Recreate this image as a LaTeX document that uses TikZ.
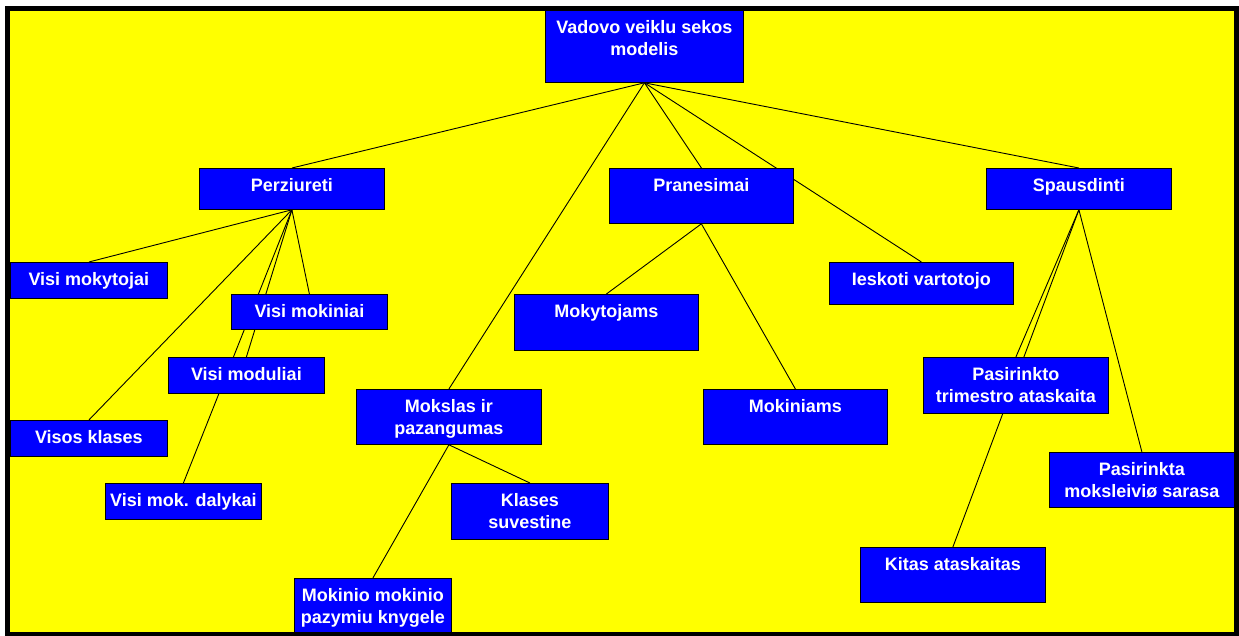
\documentclass[tikz,border=0pt]{standalone}
\usepackage{fontspec}
\setmainfont{Liberation Sans}
\pgfdeclarelayer{bg}
\pgfsetlayers{bg,main}
\definecolor{pageyellow}{RGB}{255,255,0}
\definecolor{boxblue}{RGB}{0,0,255}
% fixed first-line height so every label sits at the same depth below its box top
\newcommand\lnstrut{\rule{0pt}{15pt}}
\tikzset{
  menubox/.style={draw=black, line width=0.8pt, fill=boxblue, rectangle,
                  inner sep=0pt, anchor=north west},
  menutext/.style={anchor=north, inner sep=0pt, text=white, align=center,
                   font=\bfseries\fontsize{18}{21.5}\selectfont},
  conn/.style={draw=black, line width=0.9pt},
  outerframe/.style={draw=black, line width=5pt},
}
% #1 name, #2 #3 top-left corner, #4 #5 bottom-right corner, #6 label
\newcommand\menuitem[6]{%
  \node[menubox, minimum width=#4-#2, minimum height=#5-#3] (#1) at (#2,#3) {};
  \node[menutext] (#1-t) at ([yshift=-8.4pt]#1.north) {\lnstrut #6};
}
\begin{document}
\begin{tikzpicture}[x=1pt, y=-1pt]
  \useasboundingbox (0,0) rectangle (1239,635);

  % menu tree
  \menuitem{root}{545}{10}{743}{82}{Vadovo veiklu sekos\\modelis}
  \menuitem{perz}{199}{168}{384}{209}{Perziureti}
  \menuitem{pran}{609}{168}{793}{223}{Pranesimai}
  \menuitem{spaus}{986}{168}{1171}{209}{Spausdinti}

  \menuitem{vmokyt}{10}{262}{167}{298}{Visi mokytojai}
  \menuitem{vmokin}{231}{294}{387}{329}{Visi mokiniai}
  \menuitem{vmodul}{168}{357}{324}{393}{Visi moduliai}
  \menuitem{vklas}{10}{420}{167}{456}{Visos klases}
  \menuitem{vdal}{105}{483}{261}{519}{Visi mok. dalykai}

  \menuitem{mokslas}{356}{389}{541}{444}{Mokslas ir\\pazangumas}
  \menuitem{klsuv}{451}{483}{608}{539}{Klases\\suvestine}
  \menuitem{mknyg}{294}{578}{451}{634}{Mokinio mokinio\\pazymiu knygele}

  \menuitem{mokyt}{514}{294}{698}{350}{Mokytojams}
  \menuitem{mokin}{703}{389}{887}{444}{Mokiniams}
  \menuitem{iesk}{829}{262}{1013}{304}{Ieskoti vartotojo}

  \menuitem{ptrim}{923}{357}{1108}{413}{Pasirinkto\\trimestro ataskaita}
  \menuitem{psar}{1049}{452}{1234}{507}{Pasirinkta\\moksleiviø sarasa}
  \menuitem{kitas}{860}{547}{1045}{602}{Kitas ataskaitas}

  \begin{pgfonlayer}{bg}
    \fill[white] (0,0) rectangle (1239,635);
    \fill[pageyellow] (7.5,8.5) rectangle (1236,634.5);

    \draw[conn] (root.south) -- (perz.north);
    \draw[conn] (root.south) -- (mokslas.north);
    \draw[conn] (root.south) -- (pran.north);
    \draw[conn] (root.south) -- (iesk.north);
    \draw[conn] (root.south) -- (spaus.north);

    \draw[conn] (perz.south) -- (vmokyt.north);
    \draw[conn] (perz.south) -- (vklas.north);
    \draw[conn] (perz.south) -- (vmokin.north);
    \draw[conn] (perz.south) -- (vmodul.north);
    \draw[conn] (perz.south) -- (vdal.north);

    \draw[conn] (pran.south) -- (mokyt.north);
    \draw[conn] (pran.south) -- (mokin.north);

    \draw[conn] (mokslas.south) -- (klsuv.north);
    \draw[conn] (mokslas.south) -- (mknyg.north);

    \draw[conn] (spaus.south) -- (ptrim.north);
    \draw[conn] (spaus.south) -- (kitas.north);
    \draw[conn] (spaus.south) -- (psar.north);
  \end{pgfonlayer}

  % heavy outer frame
  \draw[outerframe] (7.5,8.5) rectangle (1236,634.5);
\end{tikzpicture}
\end{document}
